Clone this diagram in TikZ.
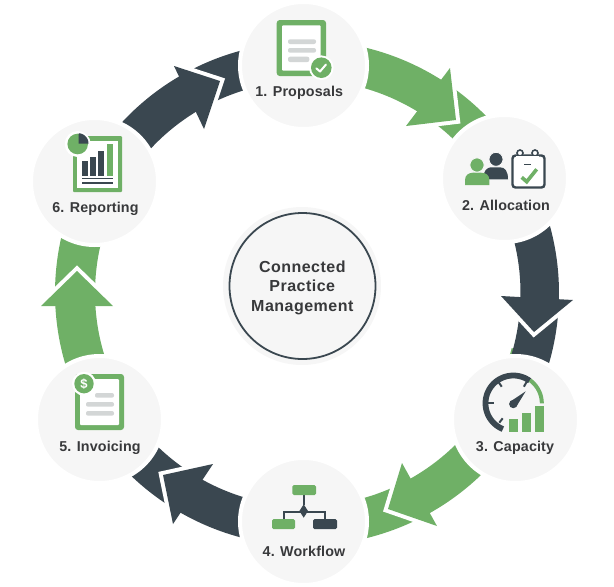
\documentclass[tikz,border=0pt]{standalone}
\usepackage{fontspec}
\setmainfont[LetterSpace=1]{Liberation Sans}
\newfontfamily\midfont[LetterSpace=3]{Liberation Sans}
\definecolor{gr}{HTML}{6FB066}
\definecolor{dk}{HTML}{3A4750}
\definecolor{bgc}{HTML}{F6F6F6}
\definecolor{lineg}{HTML}{D3D6D6}
\definecolor{txt}{HTML}{38393B}
\tikzset{
  hub/.style={circle,fill=bgc,draw=white,line width=4pt,minimum size=127pt,inner sep=0pt,outer sep=0pt},
  lab/.style={anchor=base,text=txt,font=\fontsize{14.3}{14}\selectfont\bfseries,inner sep=0pt},
  midlab/.style={anchor=base,text=txt,font=\midfont\fontsize{16}{16}\selectfont\bfseries,inner sep=0pt},
  edgeband/.style={draw=white,line width=8pt,miter limit=10,line join=miter,fill=none},
  bar/.style={fill=lineg,rounded corners=2pt}
}
% colour, start angle, end angle, inner r, outer r
\newcommand{\ringband}[5]{\fill[#1] plot[domain=#2:#3,samples=60] ({306+#5*cos(\x)},{293+#5*sin(\x)}) -- plot[domain=#3:#2,samples=60] ({306+#4*cos(\x)},{293+#4*sin(\x)}) -- cycle;}
% colour, barb, tip, barb
\newcommand{\headtip}[4]{\draw[edgeband] #2 -- #3 -- #4; \fill[#1] #2 -- #3 -- #4 -- cycle;}
\begin{document}
\begin{tikzpicture}[x=1pt,y=-1pt]
\useasboundingbox (0,0) rectangle (614,587);
% green arrows
\ringband{gr}{-90}{-30}{213}{252.5}
\headtip{gr}{(450,68)}{(456,120)}{(406,126)}
\ringband{gr}{15}{90}{213}{252.5}
\headtip{gr}{(402,463)}{(388,509)}{(437,526)}
\ringband{gr}{148}{208}{211}{251}
\headtip{gr}{(41,306)}{(77,271)}{(113,306)}
% dark arrows
\ringband{dk}{-30}{31}{214.5}{253}
\headtip{dk}{(573,300)}{(534,332)}{(501,296)}
\ringband{dk}{90}{148}{213.5}{253}
\headtip{dk}{(213,464)}{(163,475)}{(173,524)}
\ringband{dk}{208}{270}{212}{251}
\headtip{dk}{(174,66)}{(220,81)}{(204,129)}
% hubs
\node[hub] (h1) at (303.5,65.5) {};
\node[hub] (h2) at (504.5,178.5) {};
\node[hub] (h3) at (515.5,419.5) {};
\node[hub] (h4) at (303.5,521.5) {};
\node[hub] (h5) at (99.5,419.5) {};
\node[hub] (h6) at (94.5,181.5) {};
% centre
\fill[bgc] (302,286) circle[radius=79];
\draw[dk,line width=1.8pt,fill=bgc] (302.5,286) circle[radius=73];
\node[midlab] (m1) at (302.3,272.7) {Connected};
\node[midlab] (m2) at (302.3,291.7) {Practice};
\node[midlab] (m3) at (302.3,311) {Management};
% labels
\node[lab] (l1) at (299.2,96) {1. Proposals};
\node[lab] (l2) at (506,210) {2. Allocation};
\node[lab] (l3) at (515,451) {3. Capacity};
\node[lab] (l4) at (304,556.7) {4. Workflow};
\node[lab] (l5) at (100,451) {5. Invoicing};
\node[lab] (l6) at (95.5,212.7) {6. Reporting};
% icon 1
\fill[gr,rounded corners=3pt] (276.7,20) rectangle (326,76);
\fill[white,rounded corners=1pt] (282,25.3) rectangle (320.7,70.7);
\fill[bar] (288,39.3) rectangle (316,44);
\fill[bar] (288,48) rectangle (316,52.7);
\fill[bar] (288,56.7) rectangle (309.3,62);
\fill[white] (321.3,67.7) circle[radius=12.3];
\fill[gr] (321.3,67.7) circle[radius=10.3];
\draw[white,line width=2pt,line cap=round,line join=round] (316.3,68.3) -- (320,71.5) -- (326,64.5);
% icon 2
\fill[dk] (483,179.3) .. controls (483,170) and (488,167.3) .. (491,167.3) -- (500,167.3) .. controls (505,167.3) and (508,171) .. (508,179.3) -- cycle;
\draw[bgc,line width=.8pt,fill=dk] (496,159.3) circle[radius=7];
\fill[gr] (465,185) -- (465,180) .. controls (465,175) and (469,172.7) .. (473,172.7) -- (481,172.7) .. controls (486,172.7) and (489.3,175) .. (489.3,180) -- (489.3,185) -- cycle;
\draw[bgc,line width=.8pt,fill=gr] (477,165) circle[radius=7.1];
\draw[dk,line width=2.4pt,rounded corners=3pt,fill=white] (512.5,155.5) rectangle (544.5,187.5);
\draw[dk,line width=1.6pt,fill=white] (520,153) circle[radius=3];
\draw[dk,line width=1.6pt,fill=white] (535,153) circle[radius=3];
\fill[white] (516,155.6) rectangle (539,158);
\draw[dk,line width=1.5pt] (524.3,164.7) -- (531,164.7);
\draw[gr,line width=3.6pt,line join=miter] (521.7,177.3) -- (526.7,181.7) -- (536.7,169.3);
% icon 3
\draw[dk,line width=5.8pt] plot[domain=112:306,samples=50] ({513.3+27.8*cos(\x)},{403.3+27.8*sin(\x)});
\draw[gr,line width=4pt] plot[domain=306:360,samples=20] ({513.3+28.5*cos(\x)},{403.3+28.5*sin(\x)});
\draw[dk,line width=2pt] (488,402.7) -- (494,402.7);
\draw[dk,line width=2pt] (498.3,381.7) -- (501.7,386.7);
\draw[dk,line width=2pt] (526.7,381.7) -- (523.9,386.7);
\draw[dk,line width=2pt] (502.7,418.3) -- (499.3,422.7);
\fill[dk] (513.3,404) circle[radius=4.2];
\fill[dk] (510.5,401.5) -- (525.7,391.3) -- (516.2,406.8) -- cycle;
\fill[gr] (509,419) rectangle (518.3,431.7);
\fill[gr] (522.3,412.7) rectangle (531.3,431.7);
\fill[gr] (535,405.7) rectangle (544,431.7);
% icon 4
\draw[dk,line width=1.8pt] (303.7,495) -- (303.7,505);
\draw[dk,line width=1.8pt] (284,519) -- (284,511.7) -- (325,511.7) -- (325,519);
\fill[gr,rounded corners=1.5pt] (292.3,485) rectangle (316,495);
\fill[gr,rounded corners=1.5pt] (272,519) rectangle (295,529);
\fill[dk,rounded corners=1.5pt] (313,519) rectangle (337,529);
\fill[dk] (303.7,504.3) -- (308,511) -- (303.7,517.7) -- (299.4,511) -- cycle;
% icon 5
\fill[gr,rounded corners=3pt] (75,374) rectangle (124,430);
\fill[white,rounded corners=1pt] (80,379) rectangle (119,425);
\fill[bar] (95,393) rectangle (114,397.7);
\fill[bar] (86,402) rectangle (114,406.7);
\fill[bar] (86,411) rectangle (114,415.7);
\fill[white] (84,383.7) circle[radius=12];
\fill[gr] (84,383.7) circle[radius=9.7];
\node[text=white,font=\fontsize{13}{13}\selectfont\bfseries,inner sep=0pt] (d5) at (84,383.7) {\$};
% icon 6
\fill[gr,rounded corners=1pt] (73,136) rectangle (122,192);
\fill[white] (77.3,140.7) rectangle (117.7,187.7);
\fill[dk] (82,161) rectangle (88,176);
\fill[dk] (90,156.7) rectangle (96,176);
\fill[dk] (98,151) rectangle (104,176);
\fill[gr] (107,144) rectangle (113,176);
\fill[dk] (82,178) rectangle (113,179.4);
\fill[dk] (82,182.3) rectangle (113,184);
\fill[white] (77.7,144) circle[radius=13];
\fill[gr] (77.7,144) circle[radius=10.3];
\fill[dk] (78.7,143.5) -- (78.7,133.7) -- plot[domain=-85:0,samples=15] ({78.2+10.3*cos(\x)},{143.5+10.3*sin(\x)}) -- cycle;
\end{tikzpicture}
\end{document}
